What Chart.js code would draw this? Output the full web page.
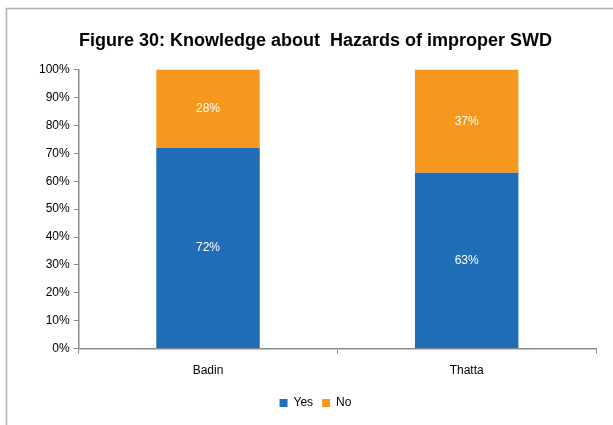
<!DOCTYPE html>
<html>
<head>
<meta charset="utf-8">
<script src="https://cdn.jsdelivr.net/npm/chart.js@4"></script>
<style>
  html, body { margin: 0; padding: 0; background: #fff; }
  #wrap { width: 613px; height: 425px; position: relative; }
</style>
</head>
<body>
<div id="wrap"><canvas id="chart" width="613" height="425"></canvas></div>
<script>
const districts = ['Badin', 'Thatta'];
const yesValues = [72, 63];
const noValues = [28, 37];
const titleText = 'Figure 30: Knowledge about  Hazards of improper SWD';

// frame around the chart (left and top edges visible in the picture)
const framePlugin = {
    id: 'frame',
    beforeDraw(chart) {
        const c = chart.ctx;
        c.save();
        c.fillStyle = '#fff';
        c.fillRect(0, 0, chart.width, chart.height);
        c.strokeStyle = '#b0b0b0';
        c.lineWidth = 1.5;
        c.beginPath();
        c.moveTo(6.5, chart.height + 5);
        c.lineTo(6.5, 8.5);
        c.lineTo(chart.width + 5, 8.5);
        c.stroke();
        c.restore();
    }
};

// white percent labels in the middle of each segment
const labelPlugin = {
    id: 'segLabels',
    afterDatasetsDraw(chart) {
        const c = chart.ctx;
        c.save();
        c.fillStyle = '#ffffff';
        c.font = '12px "Liberation Sans", Arial, sans-serif';
        c.textAlign = 'center';
        c.textBaseline = 'middle';
        chart.data.datasets.forEach((ds, i) => {
            chart.getDatasetMeta(i).data.forEach((bar, j) => {
                const mid = (bar.y + bar.base) / 2;
                c.fillText(ds.data[j] + '%', bar.x, mid);
            });
        });
        c.restore();
    }
};

const ctx = document.getElementById('chart').getContext('2d');

let chart = new Chart(ctx, {
    type: 'bar',
    data: {
        labels: districts,
        datasets: [{
            label: 'Yes',
            data: yesValues,
            backgroundColor: '#1f6eb7',
            categoryPercentage: 1,
            barPercentage: 0.4
        }, {
            label: 'No',
            data: noValues,
            backgroundColor: '#f7981e',
            categoryPercentage: 1,
            barPercentage: 0.4
        }]
    },
    plugins: [framePlugin, labelPlugin],
    options: {
        responsive: false,
        animation: false,
        layout: {
            padding: { left: 35, right: 17, top: 14, bottom: 6 }
        },
        plugins: {
            title: {
                display: true,
                text: titleText,
                color: '#000',
                font: { family: '"Liberation Sans", Arial, sans-serif', size: 18, weight: 'bold' },
                padding: { top: 16, bottom: 18 }
            },
            legend: {
                position: 'bottom',
                labels: {
                    boxWidth: 8,
                    boxHeight: 8,
                    padding: 9,
                    color: '#000',
                    font: { family: '"Liberation Sans", Arial, sans-serif', size: 12 }
                }
            },
            tooltip: { enabled: false }
        },
        scales: {
            x: {
                stacked: true,
                grid: {
                    display: true,
                    drawOnChartArea: false,
                    drawTicks: true,
                    tickLength: 5,
                    color: '#8c8c8c',
                    offset: true
                },
                border: { color: '#8c8c8c', width: 1.5 },
                ticks: {
                    color: '#000',
                    padding: 10,
                    font: { family: '"Liberation Sans", Arial, sans-serif', size: 12 }
                }
            },
            y: {
                stacked: true,
                min: 0,
                max: 100,
                grid: {
                    display: true,
                    drawOnChartArea: false,
                    drawTicks: true,
                    tickLength: 5,
                    color: '#8c8c8c'
                },
                border: { color: '#8c8c8c', width: 1.5 },
                ticks: {
                    stepSize: 10,
                    color: '#000',
                    padding: 4,
                    callback: v => v + '%',
                    font: { family: '"Liberation Sans", Arial, sans-serif', size: 12 }
                }
            }
        }
    }
});
</script>
</body>
</html>
